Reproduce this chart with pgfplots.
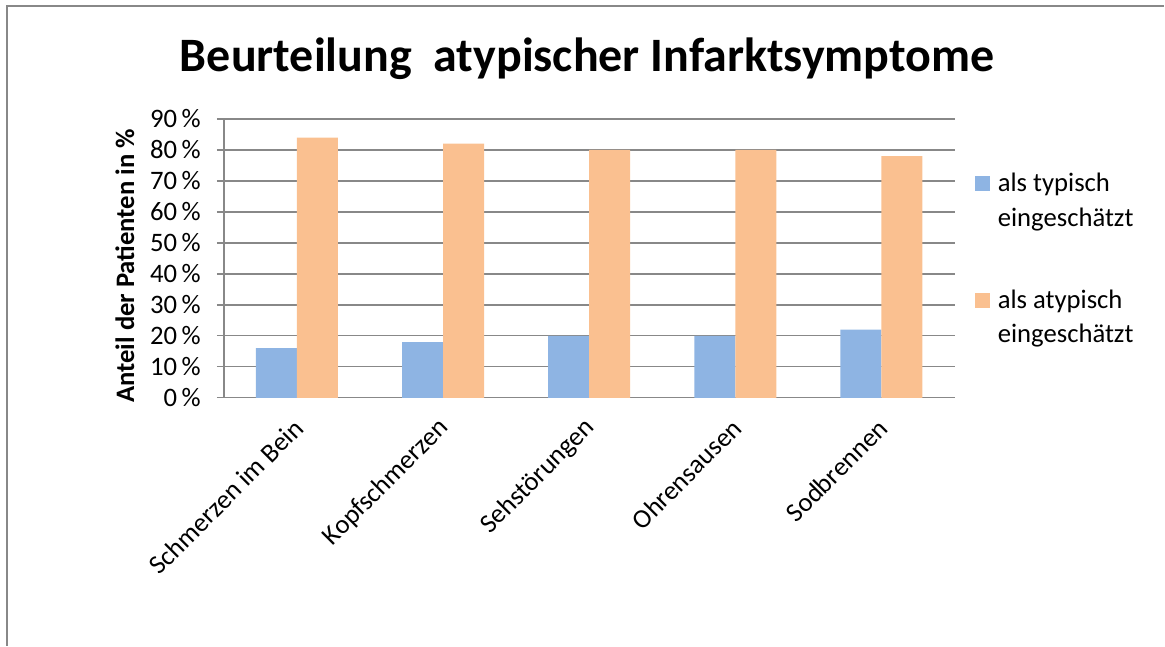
\documentclass[border=0pt]{standalone}
\usepackage{fontspec}
\setmainfont{Carlito}
\usepackage{pgfplots}
\pgfplotsset{compat=1.18}
\definecolor{typblue}{HTML}{8EB4E3}
\definecolor{atyporange}{HTML}{FAC090}
\definecolor{gridgray}{HTML}{888888}
\begin{document}
\begin{tikzpicture}
% page size 1165x646 px, 1 px = 0.75 pt
\path (0,0) rectangle (873.75pt,484.5pt);
\draw[gridgray, line width=0.9pt] (5.25pt,0) -- (5.25pt,480pt) -- (873.75pt,480pt);
\node[anchor=base, font=\bfseries\fontsize{36}{42}\selectfont] at (440.6pt,430.5pt)
  {Beurteilung\ \ atypischer Infarktsymptome};
\begin{axis}[
  at={(168pt,186pt)}, anchor=south west,
  scale only axis, width=548.25pt, height=209.25pt,
  ybar=0pt, bar width=30.75pt,
  xmin=-0.5, xmax=4.5, ymin=0, ymax=90,
  axis x line*=bottom, axis y line*=left,
  axis line style={gridgray, line width=1pt},
  xtick=data, xtick style={draw=none},
  xticklabels={Schmerzen im Bein,Kopfschmerzen,Sehstörungen,Ohrensausen,Sodbrennen},
  xticklabel style={rotate=45, anchor=east, inner sep=0pt, yshift=-11pt, xshift=-9pt},
  ytick={0,10,...,90},
  yticklabels={0\,\%,10\,\%,20\,\%,30\,\%,40\,\%,50\,\%,60\,\%,70\,\%,80\,\%,90\,\%},
  ytick style={gridgray, line width=1pt},
  tick align=outside, major tick length=5.25pt,
  yticklabel style={inner sep=0pt, xshift=-12pt},
  ymajorgrids, major grid style={gridgray, line width=1pt},
  tick label style={font=\fontsize{20}{24}\selectfont},
  /pgf/number format/assume math mode=true,
  every axis y label/.style={at={(axis description cs:-0.1354,0.473)}, rotate=90, anchor=center,
    font=\bfseries\fontsize{20}{24}\selectfont},
  ylabel={Anteil der Patienten in \%},
  legend style={at={(axis description cs:1.022,0.826)}, anchor=north west, draw=none,
    font=\fontsize{20}{26}\selectfont, cells={align=left}, row sep=42pt,
    /tikz/every odd column/.append style={column sep=4pt}},
  legend cell align=left,
  legend image code/.code={\fill[#1] (0pt,7pt) rectangle (11.25pt,18.25pt);},
]
  \addplot[fill=typblue, draw=none] coordinates {(0,16) (1,18) (2,20) (3,20) (4,22)};
  \addlegendentry{als typisch\\eingeschätzt}
  \addplot[fill=atyporange, draw=none] coordinates {(0,84) (1,82) (2,80) (3,80) (4,78)};
  \addlegendentry{als atypisch\\eingeschätzt}
\end{axis}
\end{tikzpicture}
\end{document}
